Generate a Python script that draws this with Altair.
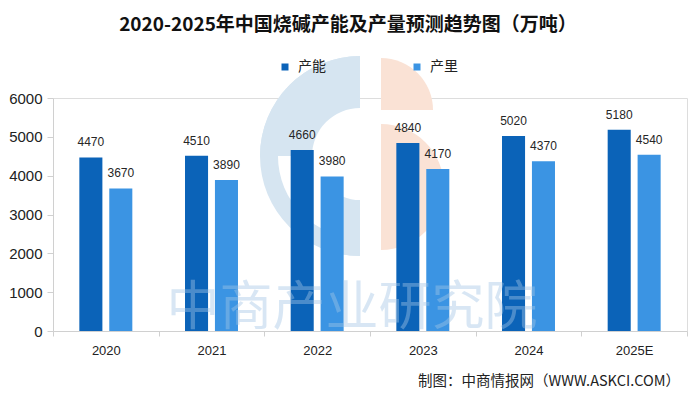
import altair as alt
import pandas as pd

years = ["2020", "2021", "2022", "2023", "2024", "2025E"]
series_names = ["产能", "产里"]
capacity = [4470, 4510, 4660, 4840, 5020, 5180]
output = [3670, 3890, 3980, 4170, 4370, 4540]
y_ticks = [0, 1000, 2000, 3000, 4000, 5000, 6000]
title_text = "2020-2025年中国烧碱产能及产量预测趋势图（万吨）"
source_text = ["制图：中商情报网（WWW.ASKCI.COM）"]
watermark_text = ["中商产业研究院"]
colors = ["#0B63B8", "#3B94E3"]

rows = []
for i, y in enumerate(years):
    rows.append({"year": y, "series": series_names[0], "value": capacity[i]})
    rows.append({"year": y, "series": series_names[1], "value": output[i]})
df = pd.DataFrame(rows)

CJK = "Noto Sans CJK SC"
SANS = "Liberation Sans"

x_enc = alt.X(
    "year:N", sort=years, title=None,
    scale=alt.Scale(paddingInner=0, paddingOuter=0),
    axis=alt.Axis(labelAngle=0, labelFont=SANS, labelFontSize=13, labelColor="#222222",
                  domainColor="#d0d0d0", tickColor="#d0d0d0", tickSize=5, tickBand="extent",
                  labelPadding=8),
)
xo_enc = alt.XOffset("series:N", sort=series_names,
                     scale=alt.Scale(paddingInner=0.23, paddingOuter=0.88))
y_enc = alt.Y(
    "value:Q", title=None,
    scale=alt.Scale(domain=[0, 6000], nice=False),
    axis=alt.Axis(values=y_ticks, tickCount=7, format="d", labelOverlap=False, grid=False,
                  labelFont=SANS, labelFontSize=15, labelColor="#222222",
                  domainColor="#d0d0d0", tickColor="#d0d0d0", tickSize=6, labelPadding=5),
)
color_enc = alt.Color(
    "series:N", sort=series_names, title=None,
    scale=alt.Scale(domain=series_names, range=colors),
    legend=alt.Legend(orient="none", legendX=225, legendY=-38, direction="horizontal",
                      symbolType="square", symbolSize=49, symbolStrokeWidth=0,
                      labelFont=CJK, labelFontSize=14, labelColor="#222222",
                      labelOffset=6, columnPadding=84),
)

# faint logo watermark (decoration) behind the bars
logo_df = pd.DataFrame({
    "part": ["ring", "topband", "foot", "peach_top", "peach_low"],
    "cx": [360, 360, 360, 381, 381],
    "cy": [156, 156, 156, 110, 187],
})
logo_parts = [
    # (theta, theta2, r, r2, color)
    (3.1416, 6.2832, 100, 82, "#D6E5F1"),
    (4.7124, 6.2832, 100, 48, "#D6E5F1"),
    (3.1416, 3.55, 100, 44, "#D6E5F1"),
    (0.0, 1.5708, 52, 0, "#FAE2D5"),
    (0.0, 3.1416, 63, 0, "#FAE2D5"),
]
logo_layers = []
for (t1, t2, r1, r2, col), (_, row) in zip(logo_parts, logo_df.iterrows()):
    logo_layers.append(
        alt.Chart(pd.DataFrame([row])).mark_arc(color=col, theta=t1, theta2=t2,
                                                 radius=r1, radius2=r2).encode(
            x=alt.value(row["cx"] - 53), y=alt.value(row["cy"] - 98))
    )

base = alt.Chart(df)
bars = base.mark_bar().encode(x=x_enc, xOffset=xo_enc, y=y_enc, color=color_enc)
labels = base.mark_text(dy=-15, baseline="middle", font=SANS, fontSize=12, color="#262626").encode(
    x=x_enc, xOffset=xo_enc, y=y_enc, text=alt.Text("value:Q", format="d"))

wm = alt.Chart(pd.DataFrame({"t": watermark_text})).mark_text(
    align="center", baseline="middle", font=CJK, fontSize=53, color="#A3C6E6", opacity=0.42
).encode(x=alt.value(299), y=alt.value(211), text="t:N")

src = alt.Chart(pd.DataFrame({"t": source_text})).mark_text(
    align="right", baseline="middle", font=CJK, fontSize=14.5, color="#222222"
).encode(x=alt.value(627), y=alt.value(284), text="t:N")

chart = alt.layer(*logo_layers, bars, labels, wm, src).properties(
    width=634, height=233,
    autosize=alt.AutoSizeParams(type="none"),
    padding={"left": 45, "top": 90, "right": 5, "bottom": 58},
    title=alt.TitleParams(title_text, font=CJK, fontSize=19, fontWeight="bold", color="#111111",
                          anchor="middle", dx=-22, offset=21),
).configure_view(stroke=None).configure(background="white")

chart.save("out.html", embed_options={"renderer": "svg", "actions": False})
